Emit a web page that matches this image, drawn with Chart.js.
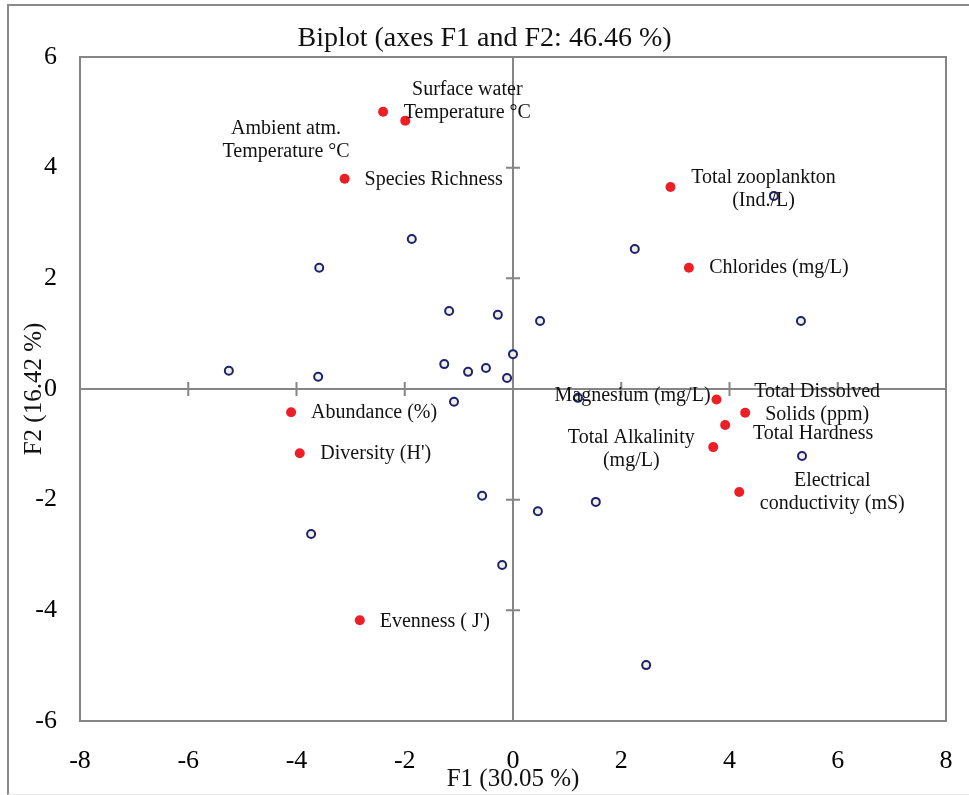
<!DOCTYPE html>
<html>
<head>
<meta charset="utf-8">
<script src="https://cdn.jsdelivr.net/npm/chart.js@4/dist/chart.umd.min.js"></script>
<style>
  body { margin: 0; background: #fff; }
  #wrap { position: relative; width: 969px; height: 795px; overflow: hidden; }
  #frame {
    position: absolute; left: 7px; top: 4px; width: 1000px; height: 788px;
    border-left: 2px solid #8a8a8a; border-top: 2px solid #8a8a8a;
    border-bottom: 1px solid #e6e6e6;
  }
  canvas { position: absolute; left: 0; top: 0; }
</style>
</head>
<body>
<div id="wrap">
  <div id="frame"></div>
  <canvas id="biplot" width="969" height="795"></canvas>
</div>
<script>

// observations (F1, F2)
const obsF1 = [-5.25, -3.60, -3.58, -1.87, -1.18, -1.27, -0.83, -0.50, -0.28, 0.00, -0.11, -1.09,
               0.50, 2.25, 4.82, 5.32, 1.20, 5.34, 1.53, 0.46, -0.57, -3.73, -0.20, 2.46]
const obsF2 = [0.33, 0.22, 2.19, 2.71, 1.41, 0.45, 0.31, 0.38, 1.34, 0.63, 0.20, -0.23,
               1.23, 2.53, 3.49, 1.23, -0.16, -1.21, -2.04, -2.21, -1.93, -2.62, -3.18, -4.99]

// variables
const varNames = [
  ["Surface water", "Temperature °C"],
  ["Ambient atm.", "Temperature °C"],
  ["Species Richness"],
  ["Total zooplankton", "(Ind./L)"],
  ["Chlorides (mg/L)"],
  ["Abundance (%)"],
  ["Diversity (H')"],
  ["Evenness ( J')"],
  ["Magnesium (mg/L)"],
  ["Total Dissolved", "Solids (ppm)"],
  ["Total Hardness"],
  ["Total Alkalinity", "(mg/L)"],
  ["Electrical", "conductivity (mS)"]
]
const varF1 = [-1.99, -2.40, -3.11, 2.91, 3.25, -4.10, -3.94, -2.83, 3.76, 4.29, 3.92, 3.70, 4.18]
const varF2 = [4.85, 5.01, 3.80, 3.65, 2.19, -0.42, -1.16, -4.18, -0.19, -0.43, -0.65, -1.05, -1.86]

const xTicks = [-8, -6, -4, -2, 0, 2, 4, 6, 8]
const yTicks = [-6, -4, -2, 0, 2, 4, 6]

// label placement: offset of the text block centre from its point, in px
const labelOffset = [
  [62, -19], [-97, 28], [89, 1], [93, 2], [90, 0], [83, 1], [76, 1],
  [75, 1], [-84, -4], [72, -10], [88, 9], [-82, 2], [93, 0]
]

const FONT = "'Liberation Serif', 'Times New Roman', serif"
const GREY = "#858585"


const frameAxes = {
  id: "frameAxes",
  beforeDatasetsDraw(chart) {
    const { ctx, chartArea: a, scales: { x, y } } = chart
    const x0 = x.getPixelForValue(0)
    const y0 = y.getPixelForValue(0)
    ctx.save()
    ctx.strokeStyle = GREY
    ctx.lineWidth = 2
    ctx.strokeRect(a.left, a.top, a.right - a.left, a.bottom - a.top)
    ctx.beginPath()
    ctx.moveTo(a.left, y0); ctx.lineTo(a.right, y0)
    ctx.moveTo(x0, a.top); ctx.lineTo(x0, a.bottom)
    xTicks.slice(1, -1).forEach(v => {
      if (v === 0) return
      const px = x.getPixelForValue(v)
      ctx.moveTo(px, y0 - 7); ctx.lineTo(px, y0 + 7)
    })
    yTicks.slice(1, -1).forEach(v => {
      if (v === 0) return
      const py = y.getPixelForValue(v)
      ctx.moveTo(x0 - 7, py); ctx.lineTo(x0 + 7, py)
    })
    ctx.stroke()
    ctx.restore()
  },
  afterDatasetsDraw(chart) {
    const { ctx } = chart
    const meta = chart.getDatasetMeta(1)
    ctx.save()
    ctx.fillStyle = "#111"
    ctx.font = "20px " + FONT
    ctx.textAlign = "center"
    ctx.textBaseline = "middle"
    meta.data.forEach((pt, i) => {
      const lines = varNames[i]
      const [dx, dy] = labelOffset[i]
      const lh = 23
      const startY = pt.y + dy - (lines.length - 1) * lh / 2
      lines.forEach((t, k) => ctx.fillText(t, pt.x + dx, startY + k * lh))
    })
    // title
    ctx.font = "28px " + FONT
    ctx.textBaseline = "alphabetic"
    ctx.fillText("Biplot (axes F1 and F2: 46.46 %)", chart.width / 2, 46)
    ctx.restore()
  }
}


new Chart(document.getElementById("biplot"), {
  type: "scatter",
  data: {
    datasets: [
      {
        label: "Observations",
        data: obsF1.map((v, i) => ({ x: v, y: obsF2[i] })),
        pointRadius: 4,
        pointBorderWidth: 2,
        borderColor: "#1d2171",
        backgroundColor: "#f1f0df"
      },
      {
        label: "Variables",
        data: varF1.map((v, i) => ({ x: v, y: varF2[i] })),
        pointRadius: 5,
        pointBorderWidth: 0,
        borderColor: "#ec1f26",
        backgroundColor: "#ec1f26"
      }
    ]
  },
  options: {
    responsive: false,
    animation: false,
    layout: { padding: { top: 57, right: 23, left: 0, bottom: 0 } },
    plugins: {
      legend: { display: false },
      tooltip: { enabled: false }
    },
    scales: {
      x: {
        type: "linear",
        min: -8, max: 8,
        afterBuildTicks: s => { s.ticks = xTicks.map(v => ({ value: v })) },
        afterFit: s => { s.height = 74; s.paddingLeft = 0; s.paddingRight = 0 },
        grid: { display: false, drawTicks: false },
        border: { display: false },
        ticks: { padding: 25, color: "#000", font: { family: FONT, size: 26 } },
        title: {
          display: true, text: "F1 (30.05 %)", color: "#111",
          font: { family: FONT, size: 25 }, padding: { top: 0, bottom: 1 }
        }
      },
      y: {
        type: "linear",
        min: -6, max: 6,
        afterBuildTicks: s => { s.ticks = yTicks.map(v => ({ value: v })) },
        afterFit: s => { s.width = 80; s.paddingTop = 0; s.paddingBottom = 0 },
        grid: { display: false, drawTicks: false },
        border: { display: false },
        ticks: { padding: 23, color: "#000", font: { family: FONT, size: 26 } },
        title: {
          display: true, text: "F2 (16.42 %)", color: "#111",
          font: { family: FONT, size: 25 }, padding: { top: 19, bottom: 0 }
        }
      }
    }
  },
  plugins: [frameAxes]
})

</script>
</body>
</html>
